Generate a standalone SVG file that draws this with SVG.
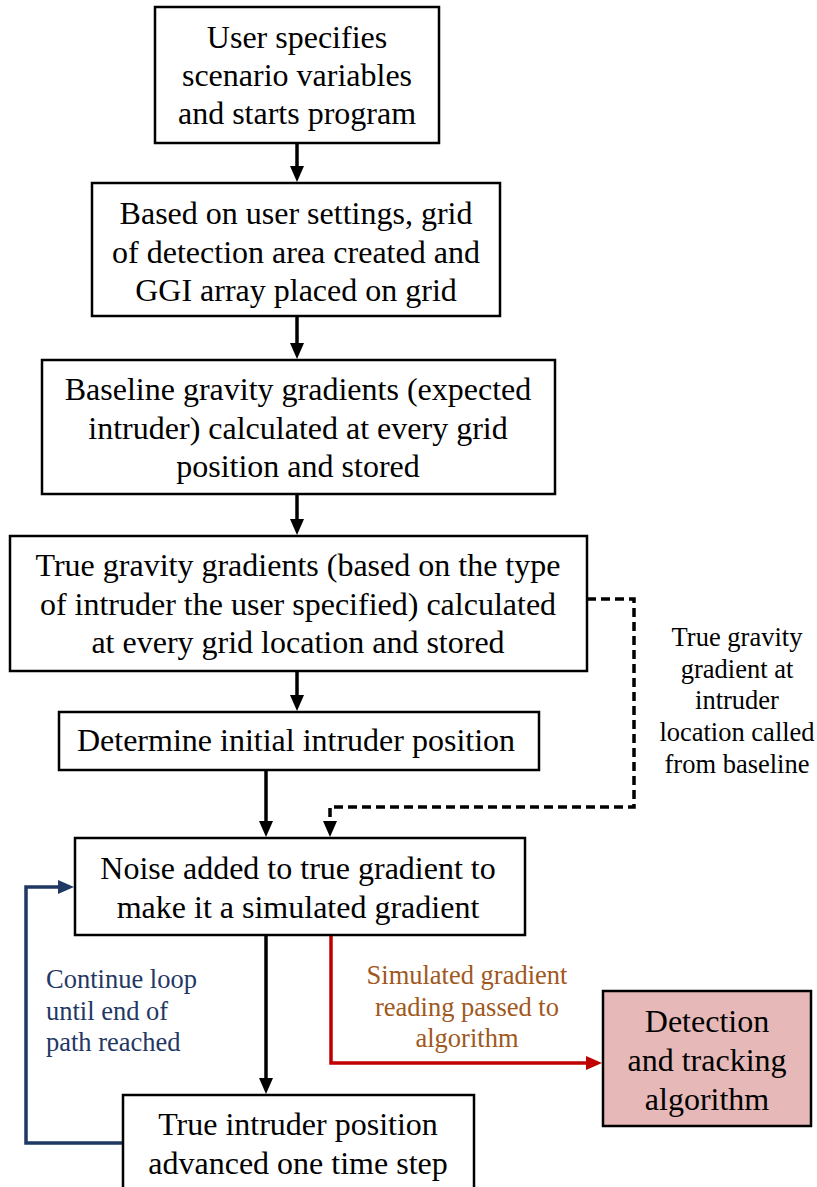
<svg xmlns="http://www.w3.org/2000/svg" width="817" height="1187" viewBox="0 0 817 1187">
<style>
.box{fill:#fff;stroke:#000;stroke-width:2.5}
.t{font-family:"Liberation Serif","Times New Roman",serif;font-size:32px;fill:#000;text-anchor:middle}
.lbl{font-family:"Liberation Serif","Times New Roman",serif;font-size:26.5px;text-anchor:middle}
.lbls{font-family:"Liberation Serif","Times New Roman",serif;font-size:26.5px;text-anchor:start;fill:#1F3864}
.c{fill:none;stroke-width:3.5}
</style>
<defs>
<marker id="ab" viewBox="0 0 16 14" refX="2" refY="7" markerWidth="16" markerHeight="14" markerUnits="userSpaceOnUse" orient="auto"><path d="M0,0 L16,7 L0,14 z" fill="#000"/></marker>
<marker id="ar" viewBox="0 0 16 14" refX="2" refY="7" markerWidth="16" markerHeight="14" markerUnits="userSpaceOnUse" orient="auto"><path d="M0,0 L16,7 L0,14 z" fill="#C00000"/></marker>
<marker id="an" viewBox="0 0 16 14" refX="2" refY="7" markerWidth="16" markerHeight="14" markerUnits="userSpaceOnUse" orient="auto"><path d="M0,0 L16,7 L0,14 z" fill="#1F3864"/></marker>
</defs>
<rect width="817" height="1187" fill="#fff"/>
<g id="connectors">
<path class="c" stroke="#000" d="M297,143 V168" marker-end="url(#ab)"/>
<path class="c" stroke="#000" d="M297,316 V345" marker-end="url(#ab)"/>
<path class="c" stroke="#000" d="M297,494 V521" marker-end="url(#ab)"/>
<path class="c" stroke="#000" d="M297,671 V697" marker-end="url(#ab)"/>
<path class="c" stroke="#000" d="M266,770 V823" marker-end="url(#ab)"/>
<path class="c" stroke="#000" stroke-dasharray="9 5" d="M587,599 H634 V807 H330 V823" marker-end="url(#ab)"/>
<path class="c" stroke="#000" d="M266,935 V1080" marker-end="url(#ab)"/>
<path class="c" stroke="#C00000" d="M331,935 V1063 H588" marker-end="url(#ar)"/>
<path class="c" stroke="#1F3864" d="M123,1143 H26 V887 H60" marker-end="url(#an)"/>
</g>
<g id="label-dashed">
<text class="lbl" fill="#000" x="737" y="646">True gravity</text>
<text class="lbl" fill="#000" x="737" y="678">gradient at</text>
<text class="lbl" fill="#000" x="737" y="709">intruder</text>
<text class="lbl" fill="#000" x="737" y="741">location called</text>
<text class="lbl" fill="#000" x="737" y="773">from baseline</text>
</g>
<g id="label-loop">
<text class="lbls" x="46" y="988">Continue loop</text>
<text class="lbls" x="46" y="1020">until end of</text>
<text class="lbls" x="46" y="1051">path reached</text>
</g>
<g id="label-red">
<text class="lbl" fill="#A0581E" x="467" y="984">Simulated gradient</text>
<text class="lbl" fill="#A0581E" x="467" y="1016">reading passed to</text>
<text class="lbl" fill="#A0581E" x="467" y="1047">algorithm</text>
</g>
<g id="n1">
<rect class="box" x="155" y="7" width="284" height="136"/>
<text class="t" x="297" y="48">User specifies</text>
<text class="t" x="297" y="86">scenario variables</text>
<text class="t" x="297" y="124">and starts program</text>
</g>
<g id="n2">
<rect class="box" x="92" y="183" width="408" height="133"/>
<text class="t" x="296" y="224">Based on user settings, grid</text>
<text class="t" x="296" y="263">of detection area created and</text>
<text class="t" x="296" y="301">GGI array placed on grid</text>
</g>
<g id="n3">
<rect class="box" x="42" y="360" width="513" height="134"/>
<text class="t" x="298" y="400">Baseline gravity gradients (expected</text>
<text class="t" x="298" y="439">intruder) calculated at every grid</text>
<text class="t" x="298" y="477">position and stored</text>
</g>
<g id="n4">
<rect class="box" x="10" y="536" width="577" height="135"/>
<text class="t" x="298" y="576">True gravity gradients (based on the type</text>
<text class="t" x="298" y="615">of intruder the user specified) calculated</text>
<text class="t" x="298" y="653">at every grid location and stored</text>
</g>
<g id="n5">
<rect class="box" x="59" y="712" width="480" height="58"/>
<text class="t" x="296" y="751">Determine initial intruder position</text>
</g>
<g id="n6">
<rect class="box" x="75" y="838" width="450" height="97"/>
<text class="t" x="298" y="879">Noise added to true gradient to</text>
<text class="t" x="298" y="918">make it a simulated gradient</text>
</g>
<g id="n7">
<rect class="box" x="123" y="1095" width="351" height="100"/>
<text class="t" x="298" y="1135">True intruder position</text>
<text class="t" x="298" y="1174">advanced one time step</text>
</g>
<g id="n8">
<rect x="603" y="991" width="208" height="135" fill="#E6B8B7" stroke="#000" stroke-width="2.5"/>
<text class="t" x="707" y="1032">Detection</text>
<text class="t" x="707" y="1071">and tracking</text>
<text class="t" x="707" y="1110">algorithm</text>
</g>
</svg>
